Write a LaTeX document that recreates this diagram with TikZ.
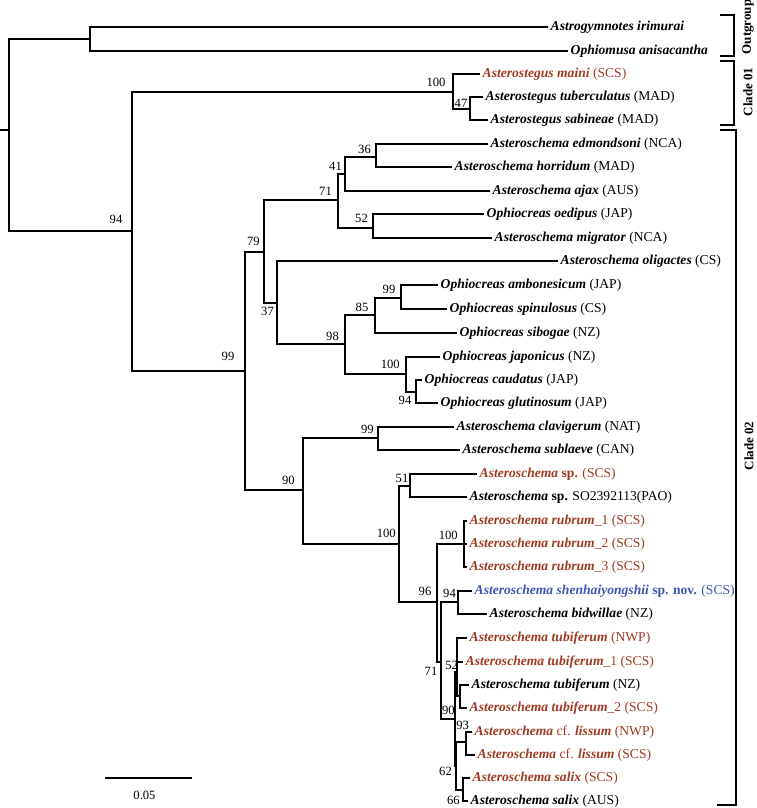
\documentclass[tikz,border=0pt]{standalone}
\usepackage{fontspec}
\setmainfont{Liberation Serif}

\definecolor{scsred}{HTML}{9E3A24}
\definecolor{novblue}{HTML}{3F55B5}
\newcommand{\taxon}[1]{\textbf{\textit{#1}}}

\begin{document}
\begin{tikzpicture}[
        x=1pt, y=-1pt,
        tree/.style={line width=1.2pt},
        tip/.style={anchor=west, inner sep=2.5pt, font=\fontsize{13.6}{15}\selectfont},
        bs/.style={inner sep=0pt, font=\fontsize{12.6}{14}\selectfont}
        ]
    \useasboundingbox (0,0) rectangle (756,808);
    % Define styles
    \tikzstyle{scs} = [text=scsred]
    \tikzstyle{nov} = [text=novblue]
    \tikzstyle{clade} = [rotate=90, inner sep=0pt, font=\fontsize{13}{15}\selectfont\bfseries]

    % Define internal nodes
    \coordinate (base) at (0,130);
    \coordinate (root) at (9,130);
    \coordinate (nOut) at (90,39);
    \coordinate (n94) at (132,231);
    \coordinate (c01) at (453,92);
    \coordinate (n47) at (470,109);
    \coordinate (c02) at (245,371);
    \coordinate (n79) at (264,252);
    \coordinate (n71) at (338,200);
    \coordinate (n41) at (345,174);
    \coordinate (n36) at (376,157);
    \coordinate (n52) at (373,228);
    \coordinate (n37) at (277,303);
    \coordinate (n98) at (345,344);
    \coordinate (n85) at (375,315);
    \coordinate (n99a) at (401,298);
    \coordinate (n100a) at (406,374);
    \coordinate (n94a) at (416,392);
    \coordinate (n90) at (303,490);
    \coordinate (n99b) at (378,438);
    \coordinate (n100b) at (399,544);
    \coordinate (n51) at (410,486);
    \coordinate (n96) at (437,602);
    \coordinate (n100c) at (464,544);
    \coordinate (n71b) at (441,662);
    \coordinate (n94b) at (458,602);
    \coordinate (n90c) at (455,719);
    \coordinate (n52b) at (457,672);
    \coordinate (nTub) at (460,696);
    \coordinate (n62) at (456,766);
    \coordinate (n93) at (466,742);
    \coordinate (n66) at (463,790);

    % Define tip nodes
    \node[tip] (irimurai) at (548,27) {\taxon{Astrogymnotes irimurai}};
    \node[tip] (anisacantha) at (568,51) {\taxon{Ophiomusa anisacantha}};
    \node[tip, scs] (maini) at (480,74) {\taxon{Asterostegus maini} (SCS)};
    \node[tip] (tuberculatus) at (483,97) {\taxon{Asterostegus tuberculatus} (MAD)};
    \node[tip] (sabineae) at (488,120) {\taxon{Asterostegus sabineae} (MAD)};
    \node[tip] (edmondsoni) at (488,144) {\taxon{Asteroschema edmondsoni} (NCA)};
    \node[tip] (horridum) at (452,167) {\taxon{Asteroschema horridum} (MAD)};
    \node[tip] (ajax) at (490,191) {\taxon{Asteroschema ajax} (AUS)};
    \node[tip] (oedipus) at (484,214) {\taxon{Ophiocreas oedipus} (JAP)};
    \node[tip] (migrator) at (492,238) {\taxon{Asteroschema migrator} (NCA)};
    \node[tip] (oligactes) at (558,261) {\taxon{Asteroschema oligactes} (CS)};
    \node[tip] (ambonesicum) at (438,285) {\taxon{Ophiocreas ambonesicum} (JAP)};
    \node[tip] (spinulosus) at (447,309) {\taxon{Ophiocreas spinulosus} (CS)};
    \node[tip] (sibogae) at (457,333) {\taxon{Ophiocreas sibogae} (NZ)};
    \node[tip] (japonicus) at (440,357) {\taxon{Ophiocreas japonicus} (NZ)};
    \node[tip] (caudatus) at (422,380) {\taxon{Ophiocreas caudatus} (JAP)};
    \node[tip] (glutinosum) at (438,403) {\taxon{Ophiocreas glutinosum} (JAP)};
    \node[tip] (clavigerum) at (454,427) {\taxon{Asteroschema clavigerum} (NAT)};
    \node[tip] (sublaeve) at (460,450) {\taxon{Asteroschema sublaeve} (CAN)};
    \node[tip, scs] (spSCS) at (477,474) {\taxon{Asteroschema} \textbf{sp.} (SCS)};
    \node[tip] (spPAO) at (467,497) {\taxon{Asteroschema} \textbf{sp.} SO2392113(PAO)};
    \node[tip, scs] (rubrumA) at (467,521) {\taxon{Asteroschema rubrum}\_1 (SCS)};
    \node[tip, scs] (rubrumB) at (467,544) {\taxon{Asteroschema rubrum}\_2 (SCS)};
    \node[tip, scs] (rubrumC) at (467,567) {\taxon{Asteroschema rubrum}\_3 (SCS)};
    \node[tip, nov] (shenhai) at (472,591) {\taxon{Asteroschema shenhaiyongshii} \textbf{sp. nov.} (SCS)};
    \node[tip] (bidwillae) at (487,614) {\taxon{Asteroschema bidwillae} (NZ)};
    \node[tip, scs] (tubNWP) at (467,638) {\taxon{Asteroschema tubiferum} (NWP)};
    \node[tip, scs] (tubA) at (463,662) {\taxon{Asteroschema tubiferum}\_1 (SCS)};
    \node[tip] (tubNZ) at (469,685) {\taxon{Asteroschema tubiferum} (NZ)};
    \node[tip, scs] (tubB) at (467,708) {\taxon{Asteroschema tubiferum}\_2 (SCS)};
    \node[tip, scs] (lisNWP) at (472,732) {\taxon{Asteroschema} cf. \taxon{lissum} (NWP)};
    \node[tip, scs] (lisSCS) at (475,755) {\taxon{Asteroschema} cf. \taxon{lissum} (SCS)};
    \node[tip, scs] (salSCS) at (470,778) {\taxon{Asteroschema salix} (SCS)};
    \node[tip] (salAUS) at (468,801) {\taxon{Asteroschema salix} (AUS)};

    % Draw root and outgroup
    \draw[tree] (base) -- (root);
    \draw[tree] (root) |- (nOut);
    \draw[tree] (root) |- (n94);
    \draw[tree] (nOut) |- (irimurai.west);
    \draw[tree] (nOut) |- (anisacantha.west);

    % Draw clade 01
    \draw[tree] (n94) |- (c01);
    \draw[tree] (c01) |- (maini.west);
    \draw[tree] (c01) |- (n47);
    \draw[tree] (n47) |- (tuberculatus.west);
    \draw[tree] (n47) |- (sabineae.west);

    % Draw clade 02, upper part
    \draw[tree] (n94) |- (c02);
    \draw[tree] (c02) |- (n79);
    \draw[tree] (n79) |- (n71);
    \draw[tree] (n71) |- (n41);
    \draw[tree] (n41) |- (n36);
    \draw[tree] (n36) |- (edmondsoni.west);
    \draw[tree] (n36) |- (horridum.west);
    \draw[tree] (n41) |- (ajax.west);
    \draw[tree] (n71) |- (n52);
    \draw[tree] (n52) |- (oedipus.west);
    \draw[tree] (n52) |- (migrator.west);
    \draw[tree] (n79) |- (n37);
    \draw[tree] (n37) |- (oligactes.west);
    \draw[tree] (n37) |- (n98);
    \draw[tree] (n98) |- (n85);
    \draw[tree] (n85) |- (n99a);
    \draw[tree] (n99a) |- (ambonesicum.west);
    \draw[tree] (n99a) |- (spinulosus.west);
    \draw[tree] (n85) |- (sibogae.west);
    \draw[tree] (n98) |- (n100a);
    \draw[tree] (n100a) |- (japonicus.west);
    \draw[tree] (n100a) |- (n94a);
    \draw[tree] (n94a) |- (caudatus.west);
    \draw[tree] (n94a) |- (glutinosum.west);

    % Draw clade 02, lower part
    \draw[tree] (c02) |- (n90);
    \draw[tree] (n90) |- (n99b);
    \draw[tree] (n99b) |- (clavigerum.west);
    \draw[tree] (n99b) |- (sublaeve.west);
    \draw[tree] (n90) |- (n100b);
    \draw[tree] (n100b) |- (n51);
    \draw[tree] (n51) |- (spSCS.west);
    \draw[tree] (n51) |- (spPAO.west);
    \draw[tree] (n100b) |- (n96);
    \draw[tree] (n96) |- (n100c);
    \draw[tree] (n100c) |- (rubrumA.west);
    \draw[tree] (n100c) |- (rubrumB.west);
    \draw[tree] (n100c) |- (rubrumC.west);
    \draw[tree] (n96) |- (n71b);
    \draw[tree] (n71b) |- (n94b);
    \draw[tree] (n94b) |- (shenhai.west);
    \draw[tree] (n94b) |- (bidwillae.west);
    \draw[tree] (n71b) |- (n90c);
    \draw[tree] (n90c) |- (n52b);
    \draw[tree] (n52b) |- (tubNWP.west);
    \draw[tree] (n52b) |- (tubA.west);
    \draw[tree] (n52b) |- (nTub);
    \draw[tree] (nTub) |- (tubNZ.west);
    \draw[tree] (nTub) |- (tubB.west);
    \draw[tree] (n90c) |- (n62);
    \draw[tree] (n62) |- (n93);
    \draw[tree] (n93) |- (lisNWP.west);
    \draw[tree] (n93) |- (lisSCS.west);
    \draw[tree] (n62) |- (n66);
    \draw[tree] (n66) |- (salSCS.west);
    \draw[tree] (n66) |- (salAUS.west);

    % Bootstrap values
    \node[bs] (b94) at (116,219) {94};
    \node[bs] (bc01) at (436,82) {100};
    \node[bs] (b47) at (461,103) {47};
    \node[bs] (b36) at (364.5,149.5) {36};
    \node[bs] (b41) at (335.5,166.5) {41};
    \node[bs] (b71) at (325.5,191.5) {71};
    \node[bs] (b52) at (361.5,218) {52};
    \node[bs] (b79) at (253.3,241.7) {79};
    \node[bs] (b37) at (267.5,311.3) {37};
    \node[bs] (bc02) at (228,356.3) {99};
    \node[bs] (b98) at (332.5,336.3) {98};
    \node[bs] (b85) at (362,307) {85};
    \node[bs] (b99a) at (389,289.5) {99};
    \node[bs] (b100a) at (390.3,364.3) {100};
    \node[bs] (b94a) at (405,400.5) {94};
    \node[bs] (b99b) at (367.3,429) {99};
    \node[bs] (b90) at (288.3,480.3) {90};
    \node[bs] (b51) at (402,478.3) {51};
    \node[bs] (b100b) at (386.3,533.3) {100};
    \node[bs] (b100c) at (448.3,535) {100};
    \node[bs] (b96) at (425,591.3) {96};
    \node[bs] (b94b) at (449.5,593) {94};
    \node[bs] (b71b) at (431,671.3) {71};
    \node[bs] (b52b) at (451.7,665) {52};
    \node[bs] (b90c) at (448.3,710.3) {90};
    \node[bs] (b93) at (462.7,725.8) {93};
    \node[bs] (b62) at (445.5,771.7) {62};
    \node[bs] (b66) at (453.3,800.5) {66};

    % Clade brackets
    \draw[tree] (720,15) -- (734,15) -- (734,56) -- (720,56);
    \node[clade] (lOut) at (748,27) {Outgroup};
    \draw[tree] (720,61) -- (734,61) -- (734,125) -- (720,125);
    \node[clade] (lC01) at (748,92) {Clade 01};
    \draw[tree] (720,130) -- (736,130) -- (736,805) -- (717,805);
    \node[clade] (lC02) at (749,446) {Clade 02};

    % Scale bar
    \coordinate (sbL) at (105,778);
    \coordinate (sbR) at (192,778);
    \draw[tree] (sbL) -- (sbR);
    \node[bs] (sbT) at (144.5,795) {0.05};
\end{tikzpicture}
\end{document}
